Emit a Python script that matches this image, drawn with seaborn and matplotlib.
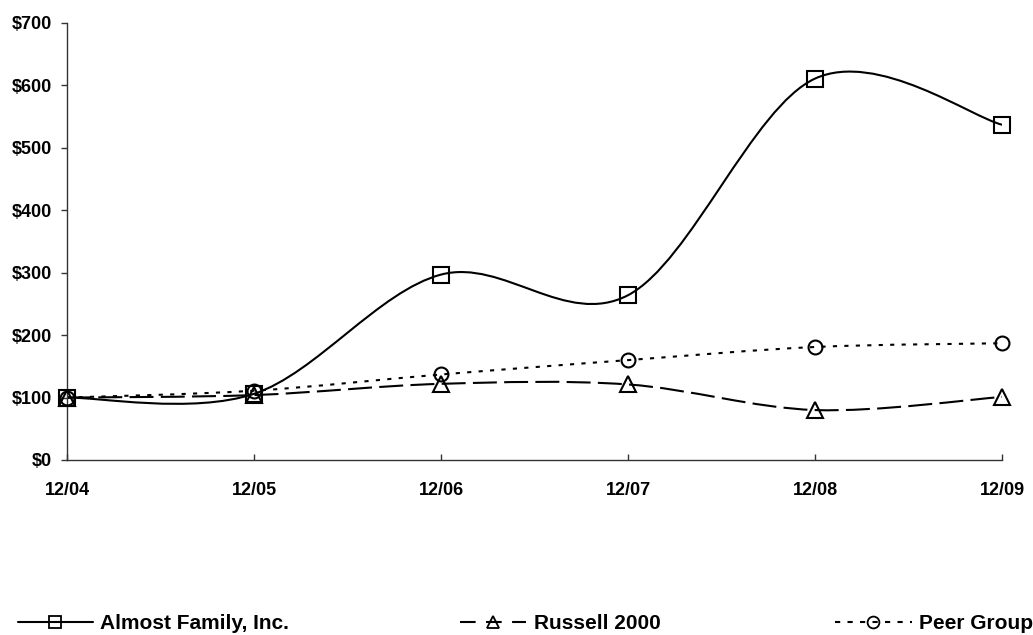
import numpy as np
import matplotlib
matplotlib.use("Agg")
import matplotlib.pyplot as plt
from matplotlib.lines import Line2D
from matplotlib.path import Path
from matplotlib.patches import PathPatch
import seaborn as sns

# data
periods = ["12/04", "12/05", "12/06", "12/07", "12/08", "12/09"]
almost_family = [100, 106, 297, 264, 611, 537]
russell_2000 = [100, 104, 122, 121, 80, 101]
peer_group = [100, 111, 137, 160, 181, 187]
series_names = ["Almost Family, Inc.", "Russell 2000", "Peer Group"]
y_ticks = [0, 100, 200, 300, 400, 500, 600, 700]

sns.set_theme(style="white")
plt.rcParams["font.family"] = ["Liberation Sans", "DejaVu Sans"]
plt.rcParams["font.weight"] = "bold"
plt.rcParams["text.color"] = "black"
plt.rcParams["xtick.labelcolor"] = "black"
plt.rcParams["ytick.labelcolor"] = "black"


def smooth_path(xs, ys):
    # Excel style smoothed line: cubic Bezier segments with Catmull-Rom handles
    xs = np.asarray(xs, float)
    ys = np.asarray(ys, float)
    n = len(xs)
    verts = [(xs[0], ys[0])]
    codes = [Path.MOVETO]
    for i in range(n - 1):
        a, b = max(i - 1, 0), min(i + 2, n - 1)
        c1 = (xs[i] + (xs[i + 1] - xs[a]) / 6, ys[i] + (ys[i + 1] - ys[a]) / 6)
        c2 = (xs[i + 1] - (xs[b] - xs[i]) / 6, ys[i + 1] - (ys[b] - ys[i]) / 6)
        verts += [c1, c2, (xs[i + 1], ys[i + 1])]
        codes += [Path.CURVE4] * 3
    return Path(verts, codes)


fig = plt.figure(figsize=(10.33, 6.35), dpi=100)
ax = fig.add_axes([0.0649, 0.2756, 0.9052, 0.6882])

pos = np.arange(len(periods))
styles = [
    (almost_family, "-", "-", "s", 11),
    (russell_2000, (0, (11.5, 3.5)), (0, (7.5, 5)), "^", 11),
    (peer_group, (0, (2, 3.5)), (0, (2.5, 3.5)), "o", 10),
]
handles = []
for (vals, ls, leg_ls, mk, ms), name in zip(styles, series_names):
    ax.add_patch(PathPatch(smooth_path(pos, vals), fill=False, edgecolor="black",
                           lw=1.5, linestyle=ls, capstyle="butt"))
    sns.lineplot(x=pos, y=vals, ax=ax, marker=mk, markersize=ms, linestyle="",
                 color="black", markerfacecolor="none", markeredgecolor="black",
                 markeredgewidth=1.5, clip_on=False, zorder=5)
    handles.append(Line2D([], [], color="black", lw=1.5, linestyle=leg_ls, marker=mk,
                          markersize=ms * 0.85, markerfacecolor="none",
                          markeredgecolor="black", markeredgewidth=1.3, label=name))

ax.set_xlim(0, len(periods) - 1)
ax.set_ylim(0, 700)
ax.set_xticks(pos)
ax.set_xticklabels(periods)
ax.set_yticks(y_ticks)
ax.set_yticklabels([f"${v}" for v in y_ticks])
ax.set_xlabel("")
ax.set_ylabel("")
for s in ["top", "right"]:
    ax.spines[s].set_visible(False)
for s in ["left", "bottom"]:
    ax.spines[s].set_color("#333333")
    ax.spines[s].set_linewidth(1.0)
ax.tick_params(axis="y", direction="out", length=4, width=1, color="#333333",
               pad=7, labelsize=13, left=True, labelcolor="black")
ax.tick_params(axis="x", direction="in", length=4, width=1, color="#333333",
               pad=16, labelsize=13, bottom=True, labelcolor="black")
for lab in ax.get_xticklabels() + ax.get_yticklabels():
    lab.set_fontweight("bold")

# three separate legend entries along the bottom
legend_x = [0.0174, 0.445, 0.808]
legend_len = [3.6, 3.2, 3.7]
for h, lx, hl in zip(handles, legend_x, legend_len):
    fig.legend(handles=[h], loc="center left", bbox_to_anchor=(lx, 0.018),
               frameon=False, borderpad=0, borderaxespad=0, handlelength=hl,
               handletextpad=0.35, labelcolor="black",
               prop={"weight": "bold", "size": 15})

fig.savefig("out.png", dpi=100)
